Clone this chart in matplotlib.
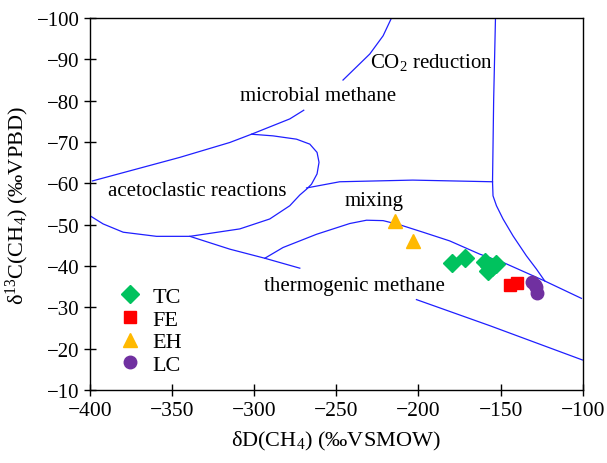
import numpy as np
import matplotlib.pyplot as plt

plt.rcParams['font.family'] = ['Liberation Serif', 'DejaVu Serif']
plt.rcParams['mathtext.fontset'] = 'custom'
plt.rcParams['mathtext.rm'] = 'Liberation Serif'
plt.rcParams['mathtext.it'] = 'Liberation Serif:italic'
plt.rcParams['mathtext.default'] = 'regular'

# Sample data (dD, d13C)
tc_dD = [-179.5, -171.4, -159.6, -152.5, -157.6, -155.0, -157.0]
tc_dC = [-40.7, -41.9, -40.9, -40.5, -38.9, -39.7, -40.0]
fe_dD = [-144.4, -140.0]
fe_dC = [-35.4, -35.9]
eh_dD = [-214.4, -203.3]
eh_dC = [-51.0, -46.1]
lc_dD = [-130.6, -128.2, -127.6, -129.0]
lc_dC = [-36.2, -34.9, -33.4, -35.5]

# Boundary lines of the genetic diagram (dD, d13C)
co2_top_x = [-216.4, -221.5, -229.6, -245.9]
co2_top_y = [-100.0, -95.7, -91.3, -85.0]
microbial_x = [-269.8, -278.3, -301.6, -314.8, -345.2, -398.4]
microbial_y = [-77.7, -75.6, -71.9, -69.9, -66.3, -60.6]
aceto_x = [-301.6, -288.5, -274.2, -266.1, -261.7, -260.5, -261.7, -265.1,
           -268.1, -272.2, -278.3, -290.5, -308.7, -339.1, -359.4, -379.7,
           -391.9, -400.0]
aceto_y = [-71.9, -71.5, -70.7, -69.5, -67.5, -65.1, -62.3, -59.8,
           -58.6, -57.2, -54.6, -51.4, -49.0, -47.2, -47.2, -48.2,
           -50.2, -52.2]
mix_top_x = [-268.1, -247.9, -203.5, -154.9]
mix_top_y = [-58.9, -60.4, -60.8, -60.4]
vert_x = [-153.1, -154.2, -154.9, -154.6, -152.5, -148.5, -142.4, -134.3,
          -128.2, -123.1]
vert_y = [-100.0, -80.4, -60.4, -57.0, -54.6, -51.4, -47.3, -42.5,
          -39.3, -36.4]
thermo_seg_x = [-339.1, -314.8, -293.5, -272.2]
thermo_seg_y = [-47.2, -44.1, -41.9, -39.5]
thermo_top_x = [-293.5, -282.4, -262.0, -241.8, -231.6, -221.5, -211.4,
                -197.2, -181.0, -162.7, -148.5, -123.1, -100.8]
thermo_top_y = [-41.9, -44.5, -47.7, -50.3, -51.1, -51.0, -50.0,
                -48.2, -46.1, -42.9, -40.9, -36.4, -32.2]
thermo_low_x = [-201.2, -156.6, -100.2]
thermo_low_y = [-31.9, -25.6, -17.3]

fig = plt.figure(figsize=(6.07, 4.64), dpi=100)
ax = fig.add_axes([0.148, 0.157, 0.812, 0.802])

line_kw = dict(color='#1f1fff', lw=0.9, solid_joinstyle='round')
for xs, ys in [(co2_top_x, co2_top_y), (microbial_x, microbial_y),
               (aceto_x, aceto_y), (mix_top_x, mix_top_y), (vert_x, vert_y),
               (thermo_seg_x, thermo_seg_y), (thermo_top_x, thermo_top_y),
               (thermo_low_x, thermo_low_y)]:
    ax.plot(xs, ys, **line_kw)

ax.plot(tc_dD, tc_dC, 'D', color='#00c25e', ms=9, ls='none', label='TC')
ax.plot(fe_dD, fe_dC, 's', color='#ff0000', ms=8, ls='none', label='FE')
ax.plot(eh_dD, eh_dC, '^', color='#ffb900', ms=10, ls='none', label='EH')
ax.plot(lc_dD, lc_dC, 'o', color='#7030a0', ms=9, ls='none', label='LC')

txt = dict(fontsize=15, ha='center', va='center')
ax.text(-192.2, -89.4, r'CO$_2$ reduction', **txt)
ax.text(-261.3, -81.2, 'microbial methane', **txt)
ax.text(-334.9, -58.2, 'acetoclastic reactions', **txt)
ax.text(-227.2, -55.8, 'mixing', **txt)
ax.text(-238.7, -35.2, 'thermogenic methane', **txt)

ax.set_xlim(-400, -100)
ax.set_ylim(-10, -100)
ax.set_xticks(np.arange(-400, -99, 50))
ax.set_yticks(np.arange(-100, -9, 10))
ax.tick_params(direction='inout', length=8, width=1, labelsize=15.5)
ax.tick_params(axis='y', labelsize=15)
for s in ax.spines.values():
    s.set_linewidth(1.0)

ax.set_xlabel(r'δD(CH$_4$) (‰VSMOW)', fontsize=16, labelpad=7)
ax.set_ylabel(r'δ$^{13}$C(CH$_4$) (‰VPBD)', fontsize=16)

ax.legend(loc='center left', bbox_to_anchor=(0.059, 0.16), frameon=False,
          fontsize=16, handlelength=1.0, handletextpad=0.5, labelspacing=0.1,
          borderpad=0, borderaxespad=0)

fig.savefig('out.png', dpi=100)
